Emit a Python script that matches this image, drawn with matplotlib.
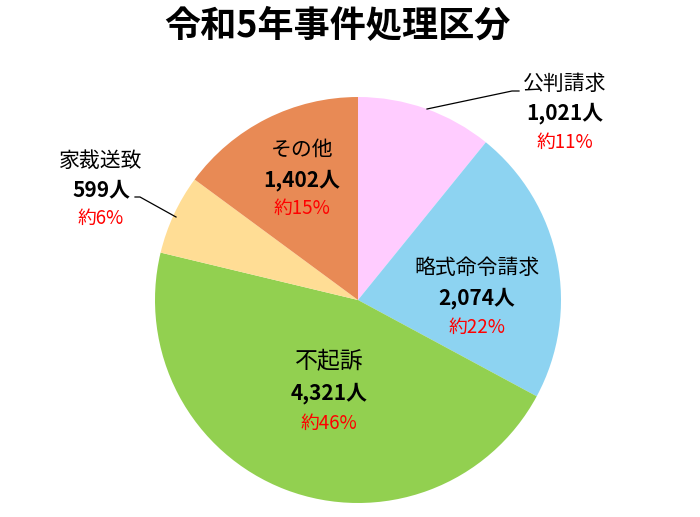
import matplotlib
matplotlib.use("Agg")
import matplotlib.pyplot as plt

plt.rcParams['font.family'] = ['Noto Sans CJK JP', 'DejaVu Sans']

labels = ["公判請求", "略式命令請求", "不起訴", "家裁送致", "その他"]
counts = [1021, 2074, 4321, 599, 1402]
count_labels = ["1,021人", "2,074人", "4,321人", "599人", "1,402人"]
pct_labels = ["約11%", "約22%", "約46%", "約6%", "約15%"]
colors = ["#FFCCFF", "#8DD3F1", "#92D050", "#FFDD95", "#E88A55"]

fig = plt.figure(figsize=(7, 5.17), dpi=100)
# pie centre ~ (358, 300) px, radius ~203 px
cx, cy, r = 358, 300, 203
W, H = 700, 517
ax = fig.add_axes([(cx - r) / W, (H - cy - r) / H, 2 * r / W, 2 * r / H])
ax.pie(counts, colors=colors, startangle=90, counterclock=False,
       radius=1.0, wedgeprops=dict(linewidth=0))
ax.set_xlim(-1, 1)
ax.set_ylim(-1, 1)
ax.set_aspect('equal')
ax.axis('off')

def px(x, y):
    return ((x - cx) / r, (cy - y) / r)

# label rows (pixel x, y of each of the three lines)
pos = [(565, 84, 113, 142), (477, 268, 298, 327), (329, 362, 393, 423),
       (101, 161, 190, 218), (302, 150, 180, 208)]
name_size = [15, 15, 16.5, 15, 15]
for i in range(len(labels)):
    x, y1, y2, y3 = pos[i]
    ax.text(*px(x, y1), labels[i], ha='center', va='center',
            fontsize=name_size[i], clip_on=False)
    ax.text(*px(x, y2), count_labels[i], ha='center', va='center', fontsize=15,
            fontweight='bold', clip_on=False)
    ax.text(*px(x, y3), pct_labels[i], ha='center', va='center', fontsize=13.5,
            color='#FF0000', clip_on=False)

# leader lines
ax.plot(*zip(px(427, 109), px(512, 91), px(519, 91)), color='black', lw=0.9,
        clip_on=False)
ax.plot(*zip(px(135, 197), px(140, 197), px(176, 217)), color='black', lw=0.9,
        clip_on=False)

fig.text(337 / W, 1 - 27 / H, "令和5年事件処理区分", ha='center', va='center',
         fontsize=26, fontweight='bold')

fig.savefig("out.png", dpi=100)
